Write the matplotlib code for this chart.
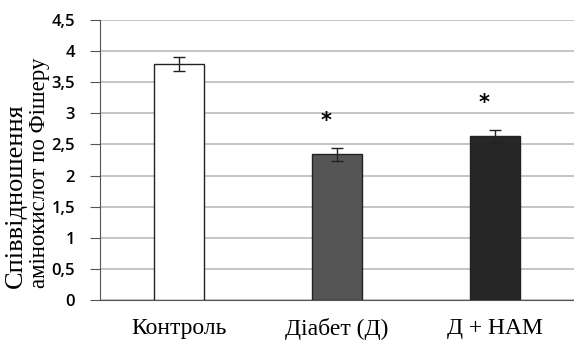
import matplotlib
matplotlib.use("Agg")
import matplotlib.pyplot as plt
import numpy as np

groups = ["Контроль", "Діабет (Д)", "Д + НАМ"]
values = [3.79, 2.34, 2.64]
errors = [0.11, 0.11, 0.10]
signif = ["", "*", "*"]
yticks = [0, 0.5, 1, 1.5, 2, 2.5, 3, 3.5, 4, 4.5]
ytick_labels = ["0", "0,5", "1", "1,5", "2", "2,5", "3", "3,5", "4", "4,5"]
ylabel_lines = ["Співвідношення", "амінокислот по Фішеру"]

colors = ["#ffffff", "#555555", "#262626"]

fig = plt.figure(figsize=(5.74, 3.4), dpi=100)
ax = fig.add_axes([100 / 574, 40 / 340, 474 / 574, 280 / 340])

x = np.arange(len(groups))
ax.bar(x, values, width=0.32, color=colors, edgecolor="#222222", linewidth=1.0, zorder=3)
ax.errorbar(x, values, yerr=errors, fmt="none", ecolor="#222222", elinewidth=1.0,
            capsize=4, capthick=1.0, zorder=4)
for xi, v, e, s in zip(x, values, errors, signif):
    if s:
        ax.text(xi - 0.07, v + e + 0.42, s, ha="center", va="center",
                fontsize=15, fontweight="bold", family="DejaVu Sans")

ax.set_xlim(-0.5, 2.5)
ax.set_ylim(0, 4.5)
ax.set_yticks(yticks)
ax.set_yticklabels(ytick_labels, fontsize=12, family="Open Sans", fontweight="semibold")
ax.set_xticks(x)
ax.set_xticklabels(groups, fontsize=17, family="Liberation Serif")
ax.tick_params(axis="x", length=0, pad=13)
ax.tick_params(axis="y", length=7, color="#555555", pad=11)
ax.yaxis.grid(True, color="#bbbbbb", linewidth=1.2, zorder=0)
ax.set_axisbelow(True)
for side in ("top", "right"):
    ax.spines[side].set_visible(False)
ax.spines["left"].set_color("#555555")
ax.spines["bottom"].set_color("#555555")

# two-line y label, first line a bit larger as in the original
fig.text(16 / 574, 52 / 340, ylabel_lines[0], rotation=90, ha="center", va="bottom",
         fontsize=19, family="Liberation Serif")
fig.text(40 / 574, 52 / 340, ylabel_lines[1], rotation=90, ha="center", va="bottom",
         fontsize=16.5, family="Liberation Serif")

fig.savefig("out.png", dpi=100)
